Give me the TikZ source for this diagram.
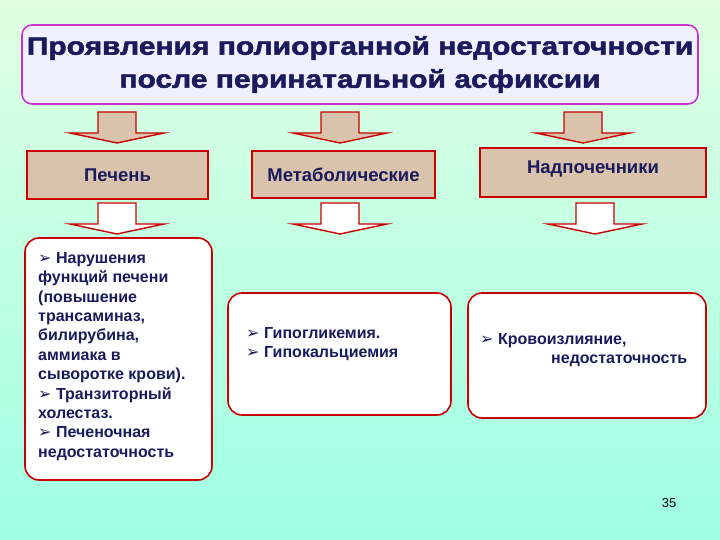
\documentclass[tikz,border=0pt]{standalone}
\usepackage{fontspec}
\setmainfont{Liberation Sans}
\newfontfamily\dejavu{DejaVu Sans}
\newfontfamily\heavy[FakeStretch=1.2,FakeBold=2]{Liberation Sans Bold}
\definecolor{navy}{HTML}{1A1A5C}
\definecolor{redl}{HTML}{CC0000}
\definecolor{beige}{HTML}{D9C3AD}
\definecolor{mag}{HTML}{CC33CC}
\newcommand{\bul}{{\dejavu\bfseries\char"27A2}~}
\tikzset{
 hdr/.style={draw=redl,line width=1.6pt,fill=beige,font=\bfseries\fontsize{18.5}{20}\selectfont,text=navy,inner sep=0pt},
 body/.style={draw=redl,line width=1.6pt,fill=white,rounded corners=14pt,inner sep=0pt},
 txt/.style={font=\bfseries\fontsize{16}{19.4}\selectfont,text=navy,align=left,anchor=north west,inner sep=0pt},
}
\newcommand{\barrow}[4]{% x, ytop, fill, name
 \draw[draw=redl,line width=1.4pt,fill=#3] (#1-19,#2) -- (#1+19,#2) -- (#1+19,#2+21) -- (#1+47,#2+21) -- (#1,#2+31) -- (#1-47,#2+21) -- (#1-19,#2+21) -- cycle;
 \coordinate (#4) at (#1,#2);}
\begin{document}
\begin{tikzpicture}[x=1pt,y=-1pt]
\shade[top color=cyan!6!green!12,bottom color=green!28!cyan!38!white] (0,0) rectangle (720,540);
\useasboundingbox (0,0) rectangle (720,540);
\node[draw=mag,line width=1.6pt,fill=blue!6,rounded corners=10pt,minimum width=676pt,minimum height=79pt,align=center,text=navy,font=\heavy\fontsize{25}{33}\selectfont] (title) at (360,64.5) {Проявления полиорганной недостаточности\\после перинатальной асфиксии};
\barrow{117}{112}{beige}{a1}
\barrow{340}{112}{beige}{a2}
\barrow{583}{112}{beige}{a3}
\node[hdr,minimum width=181pt,minimum height=48pt] (h1) at (117.5,175) {Печень};
\node[hdr,minimum width=183pt,minimum height=47pt] (h2) at (343.5,174.5) {Метаболические};
\node[hdr,minimum width=226pt,minimum height=49pt,text depth=10pt] (h3) at (593,172.5) {Надпочечники};
\barrow{117}{203}{white}{b1}
\barrow{340}{203}{white}{b2}
\barrow{595}{203}{white}{b3}
\node[body,minimum width=187pt,minimum height=242pt] (c1) at (118.5,359) {};
\node[body,minimum width=223pt,minimum height=122pt] (c2) at (339.5,354) {};
\node[body,minimum width=238pt,minimum height=125pt] (c3) at (587,355.5) {};
\node[txt] (t1) at (38,252) {\bul Нарушения\\функций печени\\(повышение\\трансаминаз,\\билирубина,\\аммиака в\\сыворотке крови).\\\bul Транзиторный\\холестаз.\\\bul Печеночная\\недостаточность};
\node[txt] (t2) at (246,327) {\bul Гипогликемия.\\\bul Гипокальциемия};
\node[txt] (t3) at (480,333) {\bul Кровоизлияние,\\\hspace*{71pt}недостаточность};
\node[font=\fontsize{13}{15}\selectfont,text=black] (pg) at (669,503) {35};
\end{tikzpicture}
\end{document}
